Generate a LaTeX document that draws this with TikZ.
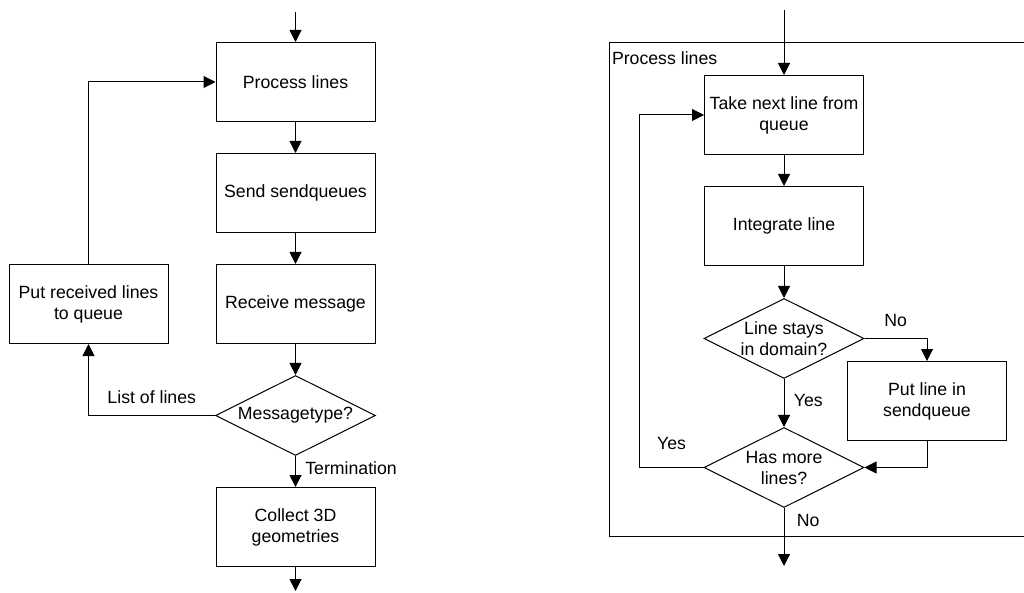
\documentclass[tikz,border=0pt]{standalone}
\usepackage{fontspec}
\setmainfont{Liberation Sans}
\usepackage{tikz}
\usetikzlibrary{arrows.meta, positioning, shapes.geometric}

\begin{document}
\begin{tikzpicture}[
  x=1pt, y=1pt,
  font=\fontsize{17.7}{21}\selectfont,
  line width=1pt,
  node distance=31pt,
  proc/.style={draw, rectangle, minimum width=159pt, minimum height=79pt, align=center, inner sep=2pt},
  decide/.style={draw, diamond, aspect=2, minimum width=160pt, minimum height=80pt, align=center, inner sep=-2pt},
  frame/.style={draw, rectangle, minimum width=423pt, minimum height=493pt},
  arr/.style={-{Triangle[length=12pt, width=12pt]}}
]
\useasboundingbox (0,0) rectangle (1024,592);

% main loop
\coordinate (inL) at (295.5,580);
\node[proc] (pl) at (295.5,510) {Process lines};
\node[proc, below=of pl] (ss) {Send sendqueues};
\node[proc, below=of ss] (rm) {Receive message};
\node[decide, below=of rm] (mt) {Messagetype?};
\node[proc, below=of mt] (col) {Collect 3D\\geometries};
\node[proc, left=47pt of rm] (put) {Put received lines\\to queue};
\coordinate (outL) at (295.5,1);

\draw[arr] (inL) -- (pl);
\draw[arr] (pl) -- (ss);
\draw[arr] (ss) -- (rm);
\draw[arr] (rm) -- (mt);
\draw[arr] (mt) -- node[right=6pt, yshift=3pt] {Termination} (col);
\draw[arr] (col) -- (outL);
\draw[arr] (mt.west) -| node[pos=0.25, above=8pt] {List of lines} (put.south);
\draw[arr] (put.north) |- (pl.west);

% process lines
\node[frame] (grp) at (820.5,302.5) {};
\node[anchor=north west, inner sep=3pt, yshift=-6pt] (grplbl) at (grp.north west) {Process lines};
\coordinate (inR) at (784,582);
\node[proc] (tk) at (784,477) {Take next line from\\queue};
\node[proc, below=of tk] (ig) {Integrate line};
\node[decide, below=32pt of ig] (d1) {Line stays\\in domain?};
\node[decide, below=48pt of d1] (d2) {Has more\\lines?};
\node[proc] (pq) at (927,191) {Put line in\\sendqueue};
\coordinate (outR) at (784,26);

\draw[arr] (inR) -- (tk);
\draw[arr] (tk) -- (ig);
\draw[arr] (ig) -- (d1);
\draw[arr] (d1) -- node[right=6pt, yshift=3pt] {Yes} (d2);
\draw[arr] (d1.east) -| node[pos=0.25, above=8pt] {No} (pq.north);
\draw[arr] (pq.south) |- (d2.east);
\draw[arr] (d2.west) -- node[above=14pt] {Yes} ++(-64,0) |- (tk.west);
\draw[arr] (d2) -- node[pos=0.27, right=9pt, yshift=3pt] {No} (outR);
\end{tikzpicture}
\end{document}
